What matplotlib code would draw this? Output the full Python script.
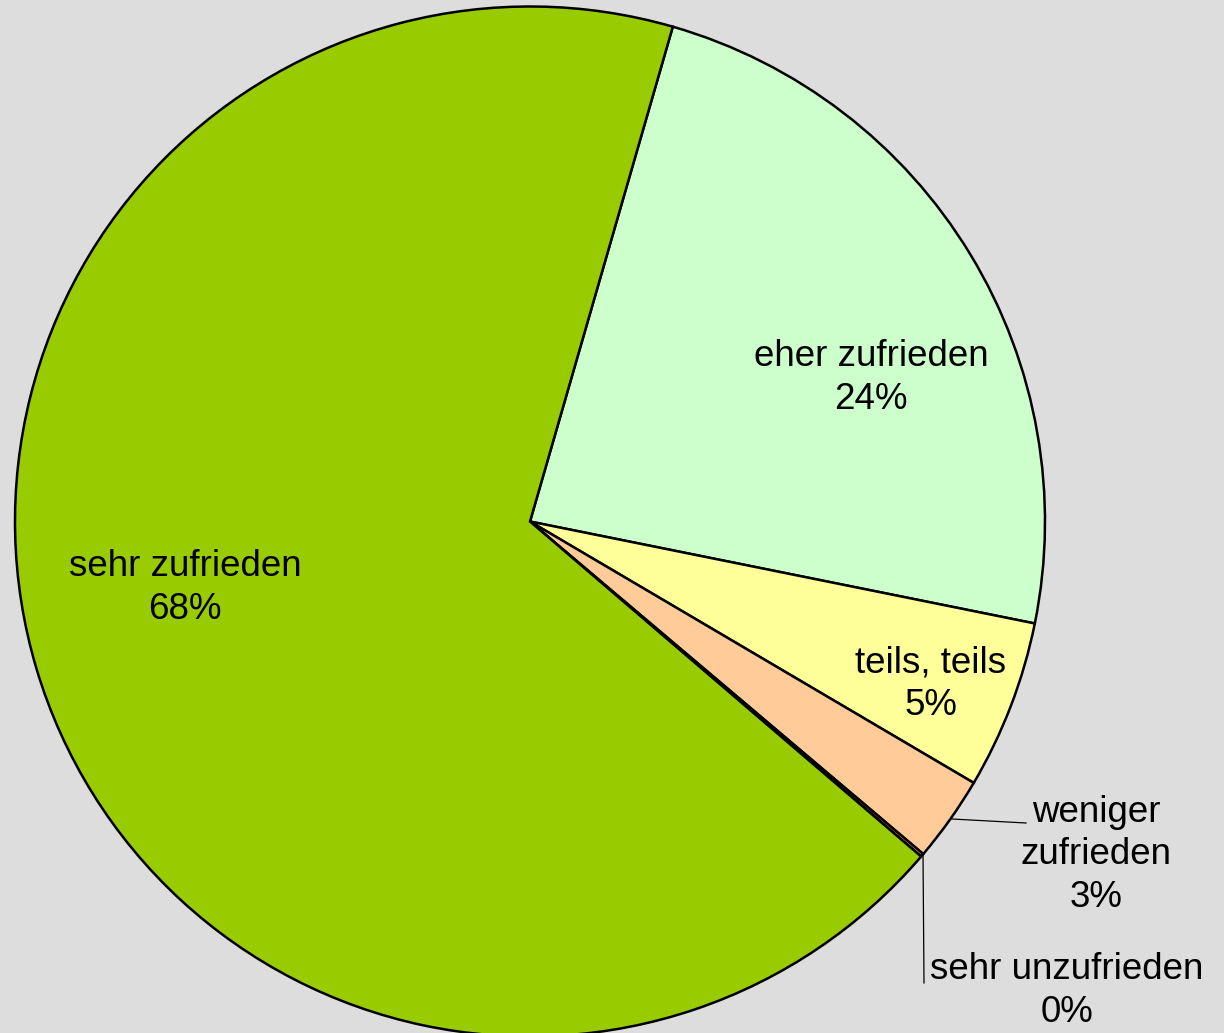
import matplotlib.pyplot as plt

plt.rcParams['font.family'] = ['Liberation Sans', 'DejaVu Sans']

# slices in clockwise order, starting at the top edge of "eher zufrieden"
categories = ["eher zufrieden", "teils, teils", "weniger\nzufrieden",
              "sehr unzufrieden", "sehr zufrieden"]
values = [23.7, 5.3, 2.7, 0.1, 68.2]
colors = ['#CCFFCC', '#FFFF99', '#FFCC99', '#FF9966', '#99CC00']

W, H = 1224, 1033
bg = '#DDDDDD'

fig = plt.figure(figsize=(W / 100, H / 100), dpi=100, facecolor=bg)
ax = fig.add_axes([0, 0, 1, 1])
ax.set_facecolor(bg)

# work in pixel coordinates (y measured from the top of the image)
def px(x, y):
    return x, H - y

cx, cy = px(530, 521.5)
ax.pie(values, colors=colors, startangle=73.9, counterclock=False,
       center=(cx, cy), radius=515,
       wedgeprops=dict(edgecolor='black', linewidth=1.8))

ax.set_xlim(0, W)
ax.set_ylim(0, H)
ax.set_aspect('equal')
ax.axis('off')

labels = [f"{c}\n{v:.0f}%" for c, v in zip(categories, values)]
label_pos = [(871, 378), (931, 684), (1096, 855), (1067, 991), (185, 588)]
for lab, (x, y) in zip(labels, label_pos):
    ax.text(*px(x, y), lab, ha='center', va='center', fontsize=26.5,
            linespacing=1.27, color='black')

# leader lines for the small slices
ax.plot(*zip(px(952, 819), px(1026, 823)), color='black', lw=0.9)
ax.plot(*zip(px(923, 853), px(924, 983)), color='black', lw=0.9)

plt.savefig('out.png', dpi=100, facecolor=bg)
